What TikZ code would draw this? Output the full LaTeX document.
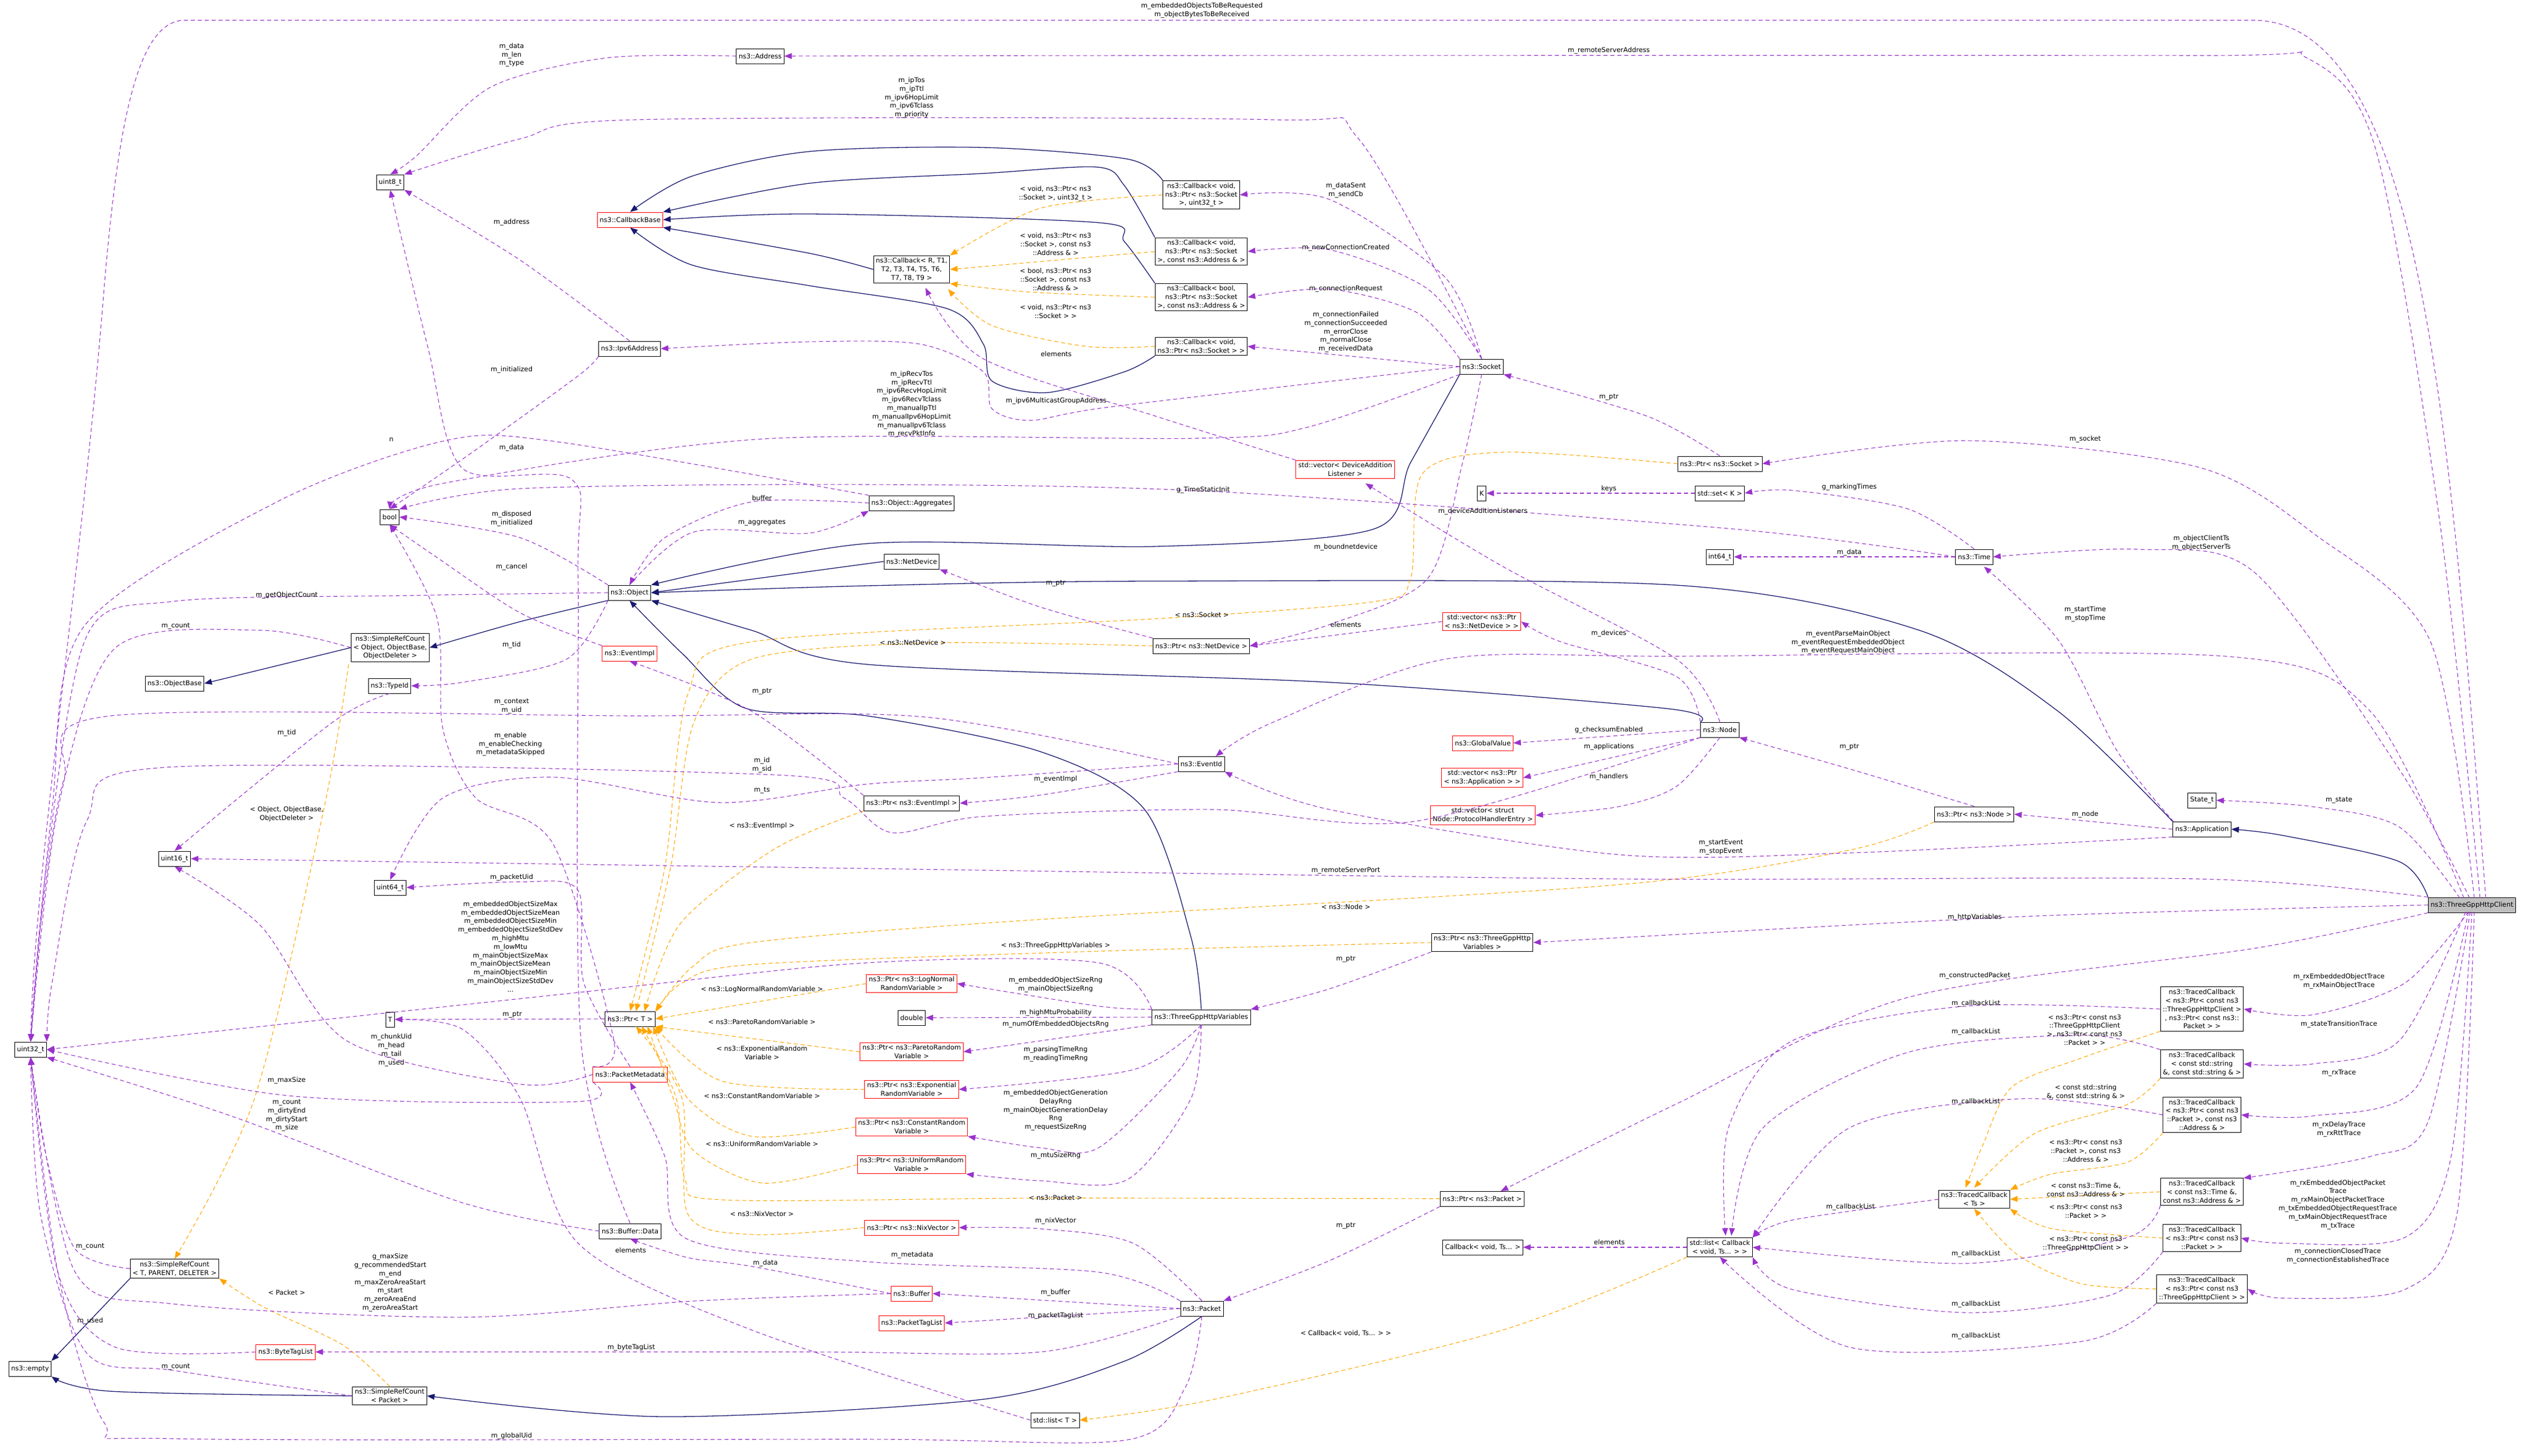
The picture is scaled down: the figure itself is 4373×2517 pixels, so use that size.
\documentclass[tikz,border=0pt]{standalone}
\usepackage{fontspec}
\setmainfont{DejaVu Sans}
\usetikzlibrary{arrows.meta}
\definecolor{purp}{RGB}{154,50,205}
\definecolor{orng}{RGB}{255,165,0}
\definecolor{navy}{RGB}{25,25,112}
\newcommand\fs{\fontsize{11.5}{14.8}\selectfont}
\tikzset{
 box/.style={draw=black,line width=1pt,fill=white,font=\fs,align=center,inner sep=4pt,minimum height=26pt},
 rbox/.style={box,draw=red},
 lbl/.style={font=\fs,align=center,inner sep=0pt},
 mem/.style={draw=purp,dash pattern=on 7pt off 5pt,line width=1.1pt,-{Triangle[length=13pt,width=10pt]}},
 tpl/.style={draw=orng,dash pattern=on 7pt off 5pt,line width=1.1pt,-{Triangle[length=13pt,width=10pt]}},
 inh/.style={draw=navy,line width=1.3pt,-{Triangle[length=13pt,width=10pt]}},
}
\begin{document}
\begin{tikzpicture}[x=1pt,y=-1pt]
\useasboundingbox (0,0) rectangle (4373,2517);
% nodes
\node[box,fill={rgb,255:red,191;green,191;blue,191}] (client) at (4276,1565) {ns3::ThreeGppHttpClient};
\node[box] (app) at (3809,1434) {ns3::Application};
\node[box] (statet) at (3809,1384) {State\_t};
\node[box] (ptrnode) at (3415,1408) {ns3::Ptr< ns3::Node >};
\node[box] (node) at (2975,1262) {ns3::Node};
\node[box] (time) at (3415,963) {ns3::Time};
\node[box] (int64) at (2975,963) {int64\_t};
\node[box] (setk) at (2975,853) {std::set< K >};
\node[box] (K) at (2563,853) {K};
\node[box] (ptrsock) at (2975,802) {ns3::Ptr< ns3::Socket >};
\node[box] (socket) at (2563,634) {ns3::Socket};
\node[box] (cbA) at (2078,337) {ns3::Callback< void,\\ns3::Ptr< ns3::Socket\\>, uint32\_t >};
\node[box] (cbB) at (2078,435) {ns3::Callback< void,\\ns3::Ptr< ns3::Socket\\>, const ns3::Address \& >};
\node[box] (cbC) at (2078,514) {ns3::Callback< bool,\\ns3::Ptr< ns3::Socket\\>, const ns3::Address \& >};
\node[box] (cbD) at (2078,599) {ns3::Callback< void,\\ns3::Ptr< ns3::Socket > >};
\node[box] (cbR) at (1577,466) {ns3::Callback< R, T1,\\T2, T3, T4, T5, T6,\\T7, T8, T9 >};
\node[rbox] (cbbase) at (1090,380) {ns3::CallbackBase};
\node[box] (ipv6) at (1089,603) {ns3::Ipv6Address};
\node[box] (uint8) at (675,315) {uint8\_t};
\node[box] (address) at (1315,97) {ns3::Address};
\node[box] (bool) at (674,894) {bool};
\node[box] (object) at (1089,1025) {ns3::Object};
\node[box] (aggr) at (1577,870) {ns3::Object::Aggregates};
\node[box] (netdev) at (1577,971) {ns3::NetDevice};
\node[box] (ptrnd) at (2078,1117) {ns3::Ptr< ns3::NetDevice >};
\node[rbox] (vecnd) at (2563,1075) {std::vector< ns3::Ptr\\< ns3::NetDevice > >};
\node[rbox] (vecdal) at (2327,812) {std::vector< DeviceAddition\\Listener >};
\node[rbox] (globalv) at (2565,1285) {ns3::GlobalValue};
\node[rbox] (vecapp) at (2564,1345) {std::vector< ns3::Ptr\\< ns3::Application > >};
\node[rbox] (vecph) at (2565,1410) {std::vector< struct\\Node::ProtocolHandlerEntry >};
\node[box] (eventid) at (2078,1321) {ns3::EventId};
\node[box] (ptrei) at (1577,1389) {ns3::Ptr< ns3::EventImpl >};
\node[rbox] (eventimpl) at (1089,1130) {ns3::EventImpl};
\node[box] (typeid) at (674,1186) {ns3::TypeId};
\node[box] (srcobj) at (675,1120) {ns3::SimpleRefCount\\< Object, ObjectBase,\\ObjectDeleter >};
\node[box] (objbase) at (302,1182) {ns3::ObjectBase};
\node[box] (uint16) at (302,1485) {uint16\_t};
\node[box] (uint64) at (675,1535) {uint64\_t};
\node[box] (uint32) at (53,1815) {uint32\_t};
\node[box] (T) at (675,1763) {T};
\node[box] (ptrT) at (1090,1762) {ns3::Ptr< T >};
\node[rbox] (pmeta) at (1090,1858) {ns3::PacketMetadata};
\node[box] (bdata) at (1090,2129) {ns3::Buffer::Data};
\node[box] (srct) at (302,2194) {ns3::SimpleRefCount\\< T, PARENT, DELETER >};
\node[rbox] (bytetag) at (494,2338) {ns3::ByteTagList};
\node[box] (empty) at (52,2367) {ns3::empty};
\node[box] (srcpkt) at (674,2414) {ns3::SimpleRefCount\\< Packet >};
\node[box] (ptrvars) at (2564,1630) {ns3::Ptr< ns3::ThreeGppHttp\\Variables >};
\node[box] (vars) at (2078,1759) {ns3::ThreeGppHttpVariables};
\node[rbox] (lognorm) at (1577,1701) {ns3::Ptr< ns3::LogNormal\\RandomVariable >};
\node[box] (double) at (1577,1760) {double};
\node[rbox] (pareto) at (1577,1819) {ns3::Ptr< ns3::ParetoRandom\\Variable >};
\node[rbox] (expo) at (1577,1884) {ns3::Ptr< ns3::Exponential\\RandomVariable >};
\node[rbox] (const) at (1577,1949) {ns3::Ptr< ns3::ConstantRandom\\Variable >};
\node[rbox] (unif) at (1577,2014) {ns3::Ptr< ns3::UniformRandom\\Variable >};
\node[box] (ptrpkt) at (2564,2073) {ns3::Ptr< ns3::Packet >};
\node[rbox] (nix) at (1577,2123) {ns3::Ptr< ns3::NixVector >};
\node[box] (cbts) at (2565,2157) {Callback< void, Ts... >};
\node[rbox] (buffer) at (1577,2237) {ns3::Buffer};
\node[box] (packet) at (2079,2263) {ns3::Packet};
\node[rbox] (ptl) at (1577,2288) {ns3::PacketTagList};
\node[box] (listT) at (1825,2456) {std::list< T >};
\node[box] (listcb) at (2975,2157) {std::list< Callback\\< void, Ts... > >};
\node[box] (tcts) at (3415,2074) {ns3::TracedCallback\\< Ts >};
\node[box] (tc1) at (3809,1745) {ns3::TracedCallback\\< ns3::Ptr< const ns3\\::ThreeGppHttpClient >\\, ns3::Ptr< const ns3::\\Packet > >};
\node[box] (tc2) at (3809,1840) {ns3::TracedCallback\\< const std::string\\\&, const std::string \& >};
\node[box] (tc3) at (3809,1928) {ns3::TracedCallback\\< ns3::Ptr< const ns3\\::Packet >, const ns3\\::Address \& >};
\node[box] (tc4) at (3809,2061) {ns3::TracedCallback\\< const ns3::Time \&,\\const ns3::Address \& >};
\node[box] (tc5) at (3809,2141) {ns3::TracedCallback\\< ns3::Ptr< const ns3\\::Packet > >};
\node[box] (tc6) at (3809,2229) {ns3::TracedCallback\\< ns3::Ptr< const ns3\\::ThreeGppHttpClient > >};

% inheritance
\draw[inh] plot[smooth,tension=0.5] coordinates {(client.north west) (4150,1490) (3950,1445) (app.east)};
\draw[inh] plot[smooth,tension=0.5] coordinates {(app.north west) (3560,1230) (3320,1090) (2900,1012) (2000,1005) (1500,1013) (object.east)};
\draw[inh] plot[smooth,tension=0.5] coordinates {(socket.south west) (2440,800) (2376,915) (2000,945) (1500,940) (object.north east)};
\draw[inh] plot[smooth,tension=0.5] coordinates {(netdev.west) (1350,995) (object.east)};
\draw[inh] plot[smooth,tension=0.5] coordinates {(node.north west) (2880,1225) (2300,1180) (1500,1149) (1300,1090) (object.south east)};
\draw[inh] plot[smooth,tension=0.5] coordinates {(vars.north) (2060,1620) (1980,1400) (1800,1300) (1500,1238) (1290,1225) (1180,1130) (object.south)};
\draw[inh] plot[smooth,tension=0.5] coordinates {(object.south west) (900,1075) (srcobj.east)};
\draw[inh] (srcobj.west) -- (objbase.east);
\draw[inh] (srct.south west) -- (empty.north east);
\draw[inh] plot[smooth,tension=0.5] coordinates {(srcpkt.west) (191,2406) (empty.south east)};
\draw[inh] plot[smooth,tension=0.5] coordinates {(packet.south) (1945,2354) (1700,2420) (1148,2450) (srcpkt.east)};
\draw[inh] plot[smooth,tension=0.5] coordinates {(cbA.north west) (1950,275) (1700,255) (1400,262) (1196,305) (cbbase.north)};
\draw[inh] plot[smooth,tension=0.5] coordinates {(cbB.north west) (1945,321) (1898,289) (1700,300) (1400,317) (cbbase.north east)};
\draw[inh] plot[smooth,tension=0.5] coordinates {(cbC.north west) (1945,418) (1900,385) (1400,370) (cbbase.east)};
\draw[inh] plot[smooth,tension=0.5] coordinates {(cbR.west) (1400,438) (cbbase.south east)};
\draw[inh] plot[smooth,tension=0.5] coordinates {(cbD.south west) (1945,643) (1811,679) (1716,659) (1701,595) (1639,534) (1400,494) (1196,458) (cbbase.south)};
% templates
\draw[tpl] plot[smooth,tension=0.5] coordinates {(cbA.west) (1800,360) (cbR.north east)};
\draw[tpl] (cbB.west) -- (cbR.east);
\draw[tpl] plot[smooth,tension=0.5] coordinates {(cbC.west) (1780,505) (cbR.south east)};
\draw[tpl] plot[smooth,tension=0.5] coordinates {(cbD.west) (1878,599) (1716,563) (1640,500)};
\draw[tpl] plot[smooth,tension=0.5] coordinates {(603,1149) (560,1400) (440,1900) (srct.north)};
\draw[tpl] plot[smooth,tension=0.5] coordinates {(srcpkt.north) (593,2326) (459,2262) (srct.south east)};
\draw[tpl] plot[smooth,tension=0.5] coordinates {(ptrsock.west) (2600,782) (2460,820) (2440,1000) (2380,1040) (2000,1070) (1300,1110) (1190,1200) (1150,1500) (ptrT.north)};
\draw[tpl] plot[smooth,tension=0.5] coordinates {(ptrnd.west) (1600,1112) (1300,1140) (1200,1250) (1160,1500) (1100,1749)};
\draw[tpl] plot[smooth,tension=0.5] coordinates {(ptrei.south west) (1340,1468) (1177,1597) (1115,1749)};
\draw[tpl] plot[smooth,tension=0.5] coordinates {(ptrnode.south west) (3200,1470) (2800,1530) (1800,1590) (1300,1630) (1200,1670) (ptrT.north east)};
\draw[tpl] plot[smooth,tension=0.5] coordinates {(ptrvars.west) (1900,1645) (1300,1668) (1180,1700) (1135,1749)};
\draw[tpl] (lognorm.west) -- (ptrT.east);
\draw[tpl] (pareto.west) -- (ptrT.south east);
\draw[tpl] plot[smooth,tension=0.5] coordinates {(expo.west) (1250,1870) (ptrT.south east)};
\draw[tpl] plot[smooth,tension=0.5] coordinates {(const.west) (1300,1965) (1190,1900) (1130,1775)};
\draw[tpl] plot[smooth,tension=0.5] coordinates {(unif.west) (1320,2046) (1200,1990) (1165,1900) (1120,1775)};
\draw[tpl] plot[smooth,tension=0.5] coordinates {(ptrpkt.west) (1800,2072) (1250,2075) (1185,2040) (1170,1900) (1110,1775)};
\draw[tpl] plot[smooth,tension=0.5] coordinates {(nix.west) (1300,2135) (1190,2100) (1180,1900) (1100,1775)};
\draw[tpl] plot[smooth,tension=0.5] coordinates {(listcb.south west) (2600,2300) (2100,2420) (listT.east)};
\draw[tpl] plot[smooth,tension=0.5] coordinates {(tc1.south west) (3600,1830) (3480,1880) (3430,1980) (3400,2054)};
\draw[tpl] plot[smooth,tension=0.5] coordinates {(tc2.south west) (3680,1910) (3520,1960) (3415,2054)};
\draw[tpl] plot[smooth,tension=0.5] coordinates {(tc3.south west) (3680,2010) (3550,2030) (tcts.north east)};
\draw[tpl] (tc4.west) -- (tcts.east);
\draw[tpl] plot[smooth,tension=0.5] coordinates {(tc5.west) (3550,2125) (tcts.south east)};
\draw[tpl] plot[smooth,tension=0.5] coordinates {(tc6.west) (3600,2220) (3490,2170) (tcts.south)};
% members from client
\draw[mem] (4300,1553) .. controls (4240,800) and (4200,40) .. (3900,35) -- (320,35) .. controls (240,35) and (205,200) .. (180,500) .. controls (140,1000) and (60,1500) .. (uint32.north);
\draw[mem] plot[smooth,tension=0.5] coordinates {(4290,1553) (4220,900) (4110,260) (3990,100) (3800,96) (2000,96) (address.east)};
\draw[mem] plot[smooth,tension=0.5] coordinates {(4280,1553) (4204,1109) (4004,924) (3803,808) (3402,762) (ptrsock.east)};
\draw[mem] plot[smooth,tension=0.5] coordinates {(4272,1553) (4150,1330) (3900,990) (3700,950) (time.east)};
\draw[mem] plot[smooth,tension=0.5] coordinates {(4262,1553) (4100,1230) (3850,1135) (2900,1135) (2500,1140) (2200,1250) (2103,1308)};
\draw[mem] plot[smooth,tension=0.5] coordinates {(4255,1553) (4150,1430) (4000,1395) (statet.east)};
\draw[mem] plot[smooth,tension=0.5] coordinates {(client.north west) (3803,1520) (2800,1520) (1500,1502) (uint16.east)};
\draw[mem] plot[smooth,tension=0.5] coordinates {(client.west) (3500,1585) (ptrvars.east)};
\draw[mem] plot[smooth,tension=0.5] coordinates {(client.south west) (3900,1640) (3300,1725) (2900,1909) (2596,2060)};
\draw[mem] plot[smooth,tension=0.5] coordinates {(4270,1577) (4160,1700) (4000,1755) (tc1.east)};
\draw[mem] plot[smooth,tension=0.5] coordinates {(4265,1577) (4150,1800) (4000,1840) (tc2.east)};
\draw[mem] plot[smooth,tension=0.5] coordinates {(4270,1577) (4180,1880) (4000,1930) (tc3.east)};
\draw[mem] plot[smooth,tension=0.5] coordinates {(4273,1577) (4200,1940) (4100,2000) (tc4.north east)};
\draw[mem] plot[smooth,tension=0.5] coordinates {(4276,1577) (4240,2000) (4160,2140) (3950,2150) (tc5.east)};
\draw[mem] plot[smooth,tension=0.5] coordinates {(4280,1577) (4250,2100) (4160,2230) (3950,2245) (tc6.east)};
% application etc
\draw[mem] (app.west) -- (ptrnode.east);
\draw[mem] plot[smooth,tension=0.5] coordinates {(app.south west) (3200,1475) (2800,1478) (2300,1400) (eventid.south east)};
\draw[mem] plot[smooth,tension=0.5] coordinates {(3760,1421) (3663,1300) (3562,1109) (3432,980)};
\draw[mem] plot[smooth,tension=0.5] coordinates {(ptrnode.north) (3200,1330) (node.south east)};
\draw[mem] plot[smooth,tension=0.5] coordinates {(node.north) (2900,1140) (2600,980) (2362,836)};
\draw[mem] plot[smooth,tension=0.5] coordinates {(node.north west) (2900,1170) (2700,1110) (vecnd.east)};
\draw[mem] (node.west) -- (globalv.east);
\draw[mem] (node.south west) -- (vecapp.east);
\draw[mem] plot[smooth,tension=0.5] coordinates {(node.south) (2900,1360) (2800,1395) (vecph.east)};
\draw[mem] plot[smooth,tension=0.5] coordinates {(node.south west) (2450,1420) (2100,1400) (1700,1412) (1543,1440) (1460,1380) (1340,1340) (287,1327) (150,1420) (90,1700) (uint32.north east)};
\draw[mem] plot[smooth,tension=0.5] coordinates {(eventid.west) (1600,1240) (1100,1238) (191,1238) (110,1350) (70,1600) (uint32.north)};
\draw[mem] plot[smooth,tension=0.5] coordinates {(eventid.west) (1700,1345) (1500,1356) (1244,1388) (957,1344) (766,1380) (uint64.north)};
\draw[mem] plot[smooth,tension=0.5] coordinates {(eventid.south west) (1800,1375) (ptrei.east)};
\draw[mem] plot[smooth,tension=0.5] coordinates {(time.west) (3000,915) (2100,850) (1500,838) (900,845) (bool.north east)};
\draw[mem] plot[smooth,tension=0.5] coordinates {(time.north) (3300,880) (3100,848) (setk.east)};
\draw[mem] (time.west) -- (int64.east);
\draw[mem] (setk.west) -- (K.east);
\draw[mem] plot[smooth,tension=0.5] coordinates {(ptrsock.north) (2850,720) (socket.south east)};
\draw[mem] plot[smooth,tension=0.5] coordinates {(socket.north) (2500,480) (2300,345) (cbA.east)};
\draw[mem] plot[smooth,tension=0.5] coordinates {(socket.north) (2470,500) (2300,432) (cbB.east)};
\draw[mem] plot[smooth,tension=0.5] coordinates {(socket.north west) (2450,540) (2300,500) (cbC.east)};
\draw[mem] (socket.west) -- (cbD.east);
\draw[mem] plot[smooth,tension=0.5] coordinates {(socket.west) (1926,703) (1783,727) (1716,707) (1701,643) (1591,595) (1400,591) (ipv6.east)};
\draw[mem] plot[smooth,tension=0.5] coordinates {(socket.north) (2350,240) (2200,207) (1100,207) (900,240) (uint8.north east)};
\draw[mem] plot[smooth,tension=0.5] coordinates {(socket.south west) (2261,739) (2070,758) (1321,759) (766,836) (bool.north)};
\draw[mem] plot[smooth,tension=0.5] coordinates {(socket.south) (2530,800) (2470,1000) (2300,1080) (ptrnd.east)};
\draw[mem] plot[smooth,tension=0.5] coordinates {(address.west) (1050,100) (850,150) (720,270) (uint8.north)};
\draw[mem] plot[smooth,tension=0.5] coordinates {(ipv6.north) (900,450) (uint8.south east)};
\draw[mem] plot[smooth,tension=0.5] coordinates {(ipv6.south west) (1000,650) (820,780) (bool.north)};
\draw[mem] plot[smooth,tension=0.5] coordinates {(object.north west) (900,930) (bool.east)};
\draw[mem] plot[smooth,tension=0.5] coordinates {(object.north) (1200,920) (1400,922) (aggr.south west)};
\draw[mem] plot[smooth,tension=0.5] coordinates {(aggr.west) (1300,868) (1150,930) (object.north)};
\draw[mem] plot[smooth,tension=0.5] coordinates {(object.south west) (980,1140) (800,1180) (typeid.east)};
\draw[mem] plot[smooth,tension=0.5] coordinates {(object.west) (700,1030) (300,1040) (150,1100) (80,1500) (uint32.north)};
\draw[mem] plot[smooth,tension=0.5] coordinates {(srcobj.west) (450,1090) (200,1120) (100,1400) (uint32.north)};
\draw[mem] plot[smooth,tension=0.5] coordinates {(typeid.south) (574,1250) (uint16.north)};
\draw[mem] plot[smooth,tension=0.5] coordinates {(eventimpl.north west) (900,1060) (750,960) (bool.south)};
\draw[mem] plot[smooth,tension=0.5] coordinates {(ptrei.north west) (1300,1230) (eventimpl.south)};
\draw[mem] plot[smooth,tension=0.5] coordinates {(ptrnd.north west) (1800,1050) (netdev.south east)};
\draw[mem] (vecnd.west) -- (ptrnd.east);
\draw[mem] plot[smooth,tension=0.5] coordinates {(vecdal.north west) (2000,720) (1700,620) (1601,498)};
\draw[mem] plot[smooth,tension=0.5] coordinates {(aggr.north west) (957,763) (766,763) (479,868) (144,1085) (90,1400) (uint32.north)};
\draw[mem] (ptrT.west) -- (T.east);
\draw[mem] plot[smooth,tension=0.5] coordinates {(vars.north west) (1900,1665) (1500,1665) (957,1721) (uint32.east)};
\draw[mem] plot[smooth,tension=0.5] coordinates {(vars.north west) (1900,1740) (lognorm.east)};
\draw[mem] (vars.west) -- (double.east);
\draw[mem] (vars.south west) -- (pareto.east);
\draw[mem] plot[smooth,tension=0.5] coordinates {(vars.south) (1960,1850) (expo.east)};
\draw[mem] plot[smooth,tension=0.5] coordinates {(vars.south) (2040,1850) (1900,1985) (1800,1985) (const.south east)};
\draw[mem] plot[smooth,tension=0.5] coordinates {(vars.south) (2060,1900) (1950,2040) (1800,2042) (unif.south east)};
\draw[mem] plot[smooth,tension=0.5] coordinates {(ptrvars.south west) (2300,1710) (vars.north east)};
\draw[mem] plot[smooth,tension=0.5] coordinates {(ptrpkt.south west) (2300,2180) (packet.north east)};
\draw[mem] plot[smooth,tension=0.5] coordinates {(packet.north) (1960,2150) (1800,2125) (nix.east)};
\draw[mem] plot[smooth,tension=0.5] coordinates {(packet.north west) (1900,2200) (1500,2182) (1187,2142) (1150,2000) (pmeta.south)};
\draw[mem] (packet.west) -- (buffer.east);
\draw[mem] (packet.west) -- (ptl.east);
\draw[mem] plot[smooth,tension=0.5] coordinates {(packet.south west) (1800,2338) (1400,2338) (bytetag.east)};
\draw[mem] plot[smooth,tension=0.5] coordinates {(packet.south) (2050,2400) (1950,2490) (1500,2489) (300,2488) (180,2460) (100,2200) (uint32.south)};
\draw[mem] plot[smooth,tension=0.5] coordinates {(pmeta.west) (900,1875) (600,1800) (450,1600) (uint16.south)};
\draw[mem] plot[smooth,tension=0.5] coordinates {(pmeta.south west) (1000,1905) (500,1895) (uint32.east)};
\draw[mem] plot[smooth,tension=0.5] coordinates {(pmeta.north) (1010,1700) (1000,1540) (900,1525) (uint64.east)};
\draw[mem] plot[smooth,tension=0.5] coordinates {(pmeta.north west) (1062,1800) (957,1460) (823,1380) (766,1260) (756,1069) (bool.south)};
\draw[mem] plot[smooth,tension=0.5] coordinates {(bdata.west) (800,2080) (400,1930) (uint32.south east)};
\draw[mem] plot[smooth,tension=0.5] coordinates {(bdata.north) (1005,1800) (1000,1000) (990,830) (800,810) (740,600) (uint8.south)};
\draw[mem] plot[smooth,tension=0.5] coordinates {(buffer.west) (1300,2190) (1190,2175) (bdata.south)};
\draw[mem] plot[smooth,tension=0.5] coordinates {(buffer.west) (1200,2250) (800,2278) (300,2255) (130,2200) (uint32.south)};
\draw[mem] plot[smooth,tension=0.5] coordinates {(bytetag.west) (200,2330) (100,2200) (uint32.south)};
\draw[mem] plot[smooth,tension=0.5] coordinates {(srct.west) (130,2160) (80,2000) (uint32.south)};
\draw[mem] plot[smooth,tension=0.5] coordinates {(srcpkt.west) (300,2370) (150,2340) (70,2100) (uint32.south)};
\draw[mem] plot[smooth,tension=0.5] coordinates {(listT.west) (1300,2300) (1000,2150) (900,1900) (800,1780) (T.east)};
\draw[mem] (listcb.west) -- (cbts.east);
\draw[mem] plot[smooth,tension=0.5] coordinates {(tcts.west) (3100,2110) (listcb.north east)};
\draw[mem] plot[smooth,tension=0.5] coordinates {(tc1.west) (3400,1740) (3100,1800) (2990,1950) (2985,2137)};
\draw[mem] plot[smooth,tension=0.5] coordinates {(tc2.north west) (3600,1790) (3300,1820) (3050,1950) (2995,2137)};
\draw[mem] plot[smooth,tension=0.5] coordinates {(tc3.west) (3500,1900) (3200,1950) (listcb.north east)};
\draw[mem] plot[smooth,tension=0.5] coordinates {(tc4.south west) (3680,2140) (3400,2185) (listcb.east)};
\draw[mem] plot[smooth,tension=0.5] coordinates {(tc5.south west) (3650,2240) (3400,2270) (3100,2230) (listcb.south east)};
\draw[mem] plot[smooth,tension=0.5] coordinates {(tc6.south west) (3600,2320) (3200,2330) (listcb.south)};

% labels
\node[lbl] at (2079,18) {m\_embeddedObjectsToBeRequested\\m\_objectBytesToBeReceived};
\node[lbl] at (2783,87) {m\_remoteServerAddress};
\node[lbl] at (885,95) {m\_data\\m\_len\\m\_type};
\node[lbl] at (1577,169) {m\_ipTos\\m\_ipTtl\\m\_ipv6HopLimit\\m\_ipv6Tclass\\m\_priority};
\node[lbl] at (1826,335) {< void, ns3::Ptr< ns3\\::Socket >, uint32\_t >};
\node[lbl] at (1826,422) {< void, ns3::Ptr< ns3\\::Socket >, const ns3\\::Address \& >};
\node[lbl] at (1826,483) {< bool, ns3::Ptr< ns3\\::Socket >, const ns3\\::Address \& >};
\node[lbl] at (1826,539) {< void, ns3::Ptr< ns3\\::Socket > >};
\node[lbl] at (2328,329) {m\_dataSent\\m\_sendCb};
\node[lbl] at (2328,428) {m\_newConnectionCreated};
\node[lbl] at (2328,499) {m\_connectionRequest};
\node[lbl] at (2328,574) {m\_connectionFailed\\m\_connectionSucceeded\\m\_errorClose\\m\_normalClose\\m\_receivedData};
\node[lbl] at (1827,612) {elements};
\node[lbl] at (1827,693) {m\_ipv6MulticastGroupAddress};
\node[lbl] at (1577,699) {m\_ipRecvTos\\m\_ipRecvTtl\\m\_ipv6RecvHopLimit\\m\_ipv6RecvTclass\\m\_manualIpTtl\\m\_manualIpv6HopLimit\\m\_manualIpv6Tclass\\m\_recvPktInfo};
\node[lbl] at (2783,687) {m\_ptr};
\node[lbl] at (885,384) {m\_address};
\node[lbl] at (885,639) {m\_initialized};
\node[lbl] at (677,760) {n};
\node[lbl] at (885,774) {m\_data};
\node[lbl] at (2081,847) {g\_TimeStaticInit};
\node[lbl] at (2783,845) {keys};
\node[lbl] at (2565,884) {m\_deviceAdditionListeners};
\node[lbl] at (1318,861) {buffer};
\node[lbl] at (885,897) {m\_disposed\\m\_initialized};
\node[lbl] at (1318,904) {m\_aggregates};
\node[lbl] at (2328,946) {m\_boundnetdevice};
\node[lbl] at (885,980) {m\_cancel};
\node[lbl] at (1826,1009) {m\_ptr};
\node[lbl] at (496,1029) {m\_getObjectCount};
\node[lbl] at (2079,1063) {< ns3::Socket >};
\node[lbl] at (2328,1080) {elements};
\node[lbl] at (1579,1111) {< ns3::NetDevice >};
\node[lbl] at (2783,1095) {m\_devices};
\node[lbl] at (304,1083) {m\_count};
\node[lbl] at (885,1115) {m\_tid};
\node[lbl] at (1318,1196) {m\_ptr};
\node[lbl] at (885,1221) {m\_context\\m\_uid};
\node[lbl] at (3607,759) {m\_socket};
\node[lbl] at (3199,842) {g\_markingTimes};
\node[lbl] at (3199,955) {m\_data};
\node[lbl] at (3808,939) {m\_objectClientTs\\m\_objectServerTs};
\node[lbl] at (3607,1062) {m\_startTime\\m\_stopTime};
\node[lbl] at (3197,1111) {m\_eventParseMainObject\\m\_eventRequestEmbeddedObject\\m\_eventRequestMainObject};
\node[lbl] at (3199,1292) {m\_ptr};
\node[lbl] at (3607,1408) {m\_node};
\node[lbl] at (4046,1384) {m\_state};
\node[lbl] at (2977,1465) {m\_startEvent\\m\_stopEvent};
\node[lbl] at (3416,1586) {m\_httpVariables};
\node[lbl] at (3416,1687) {m\_constructedPacket};
\node[lbl] at (3418,1735) {m\_callbackList};
\node[lbl] at (3418,1784) {m\_callbackList};
\node[lbl] at (3606,1781) {< ns3::Ptr< const ns3\\::ThreeGppHttpClient\\>, ns3::Ptr< const ns3\\::Packet > >};
\node[lbl] at (3418,1905) {m\_callbackList};
\node[lbl] at (3608,1889) {< const std::string\\\&, const std::string \& >};
\node[lbl] at (3608,1990) {< ns3::Ptr< const ns3\\::Packet >, const ns3\\::Address \& >};
\node[lbl] at (3608,2058) {< const ns3::Time \&,\\const ns3::Address \& >};
\node[lbl] at (3608,2095) {< ns3::Ptr< const ns3\\::Packet > >};
\node[lbl] at (3608,2151) {< ns3::Ptr< const ns3\\::ThreeGppHttpClient > >};
\node[lbl] at (3201,2087) {m\_callbackList};
\node[lbl] at (3418,2168) {m\_callbackList};
\node[lbl] at (3418,2255) {m\_callbackList};
\node[lbl] at (3418,2310) {m\_callbackList};
\node[lbl] at (2784,2148) {elements};
\node[lbl] at (4046,1697) {m\_rxEmbeddedObjectTrace\\m\_rxMainObjectTrace};
\node[lbl] at (4046,1771) {m\_stateTransitionTrace};
\node[lbl] at (4046,1856) {m\_rxTrace};
\node[lbl] at (4046,1953) {m\_rxDelayTrace\\m\_rxRttTrace};
\node[lbl] at (4044,2083) {m\_rxEmbeddedObjectPacket\\Trace\\m\_rxMainObjectPacketTrace\\m\_txEmbeddedObjectRequestTrace\\m\_txMainObjectRequestTrace\\m\_txTrace};
\node[lbl] at (4044,2172) {m\_connectionClosedTrace\\m\_connectionEstablishedTrace};
\node[lbl] at (2783,1262) {g\_checksumEnabled};
\node[lbl] at (2783,1291) {m\_applications};
\node[lbl] at (2783,1343) {m\_handlers};
\node[lbl] at (1826,1347) {m\_eventImpl};
\node[lbl] at (2328,1506) {m\_remoteServerPort};
\node[lbl] at (2328,1568) {< ns3::Node >};
\node[lbl] at (1826,1635) {< ns3::ThreeGppHttpVariables >};
\node[lbl] at (2328,1659) {m\_ptr};
\node[lbl] at (1826,1703) {m\_embeddedObjectSizeRng\\m\_mainObjectSizeRng};
\node[lbl] at (1826,1751) {m\_highMtuProbability};
\node[lbl] at (1826,1771) {m\_numOfEmbeddedObjectsRng};
\node[lbl] at (1826,1823) {m\_parsingTimeRng\\m\_readingTimeRng};
\node[lbl] at (1826,1920) {m\_embeddedObjectGeneration\\DelayRng\\m\_mainObjectGenerationDelay\\Rng\\m\_requestSizeRng};
\node[lbl] at (1826,1998) {m\_mtuSizeRng};
\node[lbl] at (1826,2071) {< ns3::Packet >};
\node[lbl] at (1826,2111) {m\_nixVector};
\node[lbl] at (2328,2120) {m\_ptr};
\node[lbl] at (1578,2170) {m\_metadata};
\node[lbl] at (1826,2235) {m\_buffer};
\node[lbl] at (1826,2275) {m\_packetTagList};
\node[lbl] at (2328,2306) {< Callback< void, Ts... > >};
\node[lbl] at (496,1267) {m\_tid};
\node[lbl] at (883,1287) {m\_enable\\m\_enableChecking\\m\_metadataSkipped};
\node[lbl] at (1318,1323) {m\_id\\m\_sid};
\node[lbl] at (1318,1367) {m\_ts};
\node[lbl] at (496,1408) {< Object, ObjectBase,\\ObjectDeleter >};
\node[lbl] at (1318,1428) {< ns3::EventImpl >};
\node[lbl] at (885,1517) {m\_packetUid};
\node[lbl] at (883,1637) {m\_embeddedObjectSizeMax\\m\_embeddedObjectSizeMean\\m\_embeddedObjectSizeMin\\m\_embeddedObjectSizeStdDev\\m\_highMtu\\m\_lowMtu\\m\_mainObjectSizeMax\\m\_mainObjectSizeMean\\m\_mainObjectSizeMin\\m\_mainObjectSizeStdDev\\...};
\node[lbl] at (1318,1711) {< ns3::LogNormalRandomVariable >};
\node[lbl] at (886,1755) {m\_ptr};
\node[lbl] at (1318,1767) {< ns3::ParetoRandomVariable >};
\node[lbl] at (677,1816) {m\_chunkUid\\m\_head\\m\_tail\\m\_used};
\node[lbl] at (1318,1821) {< ns3::ExponentialRandom\\Variable >};
\node[lbl] at (496,1868) {m\_maxSize};
\node[lbl] at (1318,1895) {< ns3::ConstantRandomVariable >};
\node[lbl] at (496,1929) {m\_count\\m\_dirtyEnd\\m\_dirtyStart\\m\_size};
\node[lbl] at (1318,1978) {< ns3::UniformRandomVariable >};
\node[lbl] at (1318,2099) {< ns3::NixVector >};
\node[lbl] at (156,2156) {m\_count};
\node[lbl] at (1091,2162) {elements};
\node[lbl] at (1324,2184) {m\_data};
\node[lbl] at (675,2218) {g\_maxSize\\g\_recommendedStart\\m\_end\\m\_maxZeroAreaStart\\m\_start\\m\_zeroAreaEnd\\m\_zeroAreaStart};
\node[lbl] at (496,2235) {< Packet >};
\node[lbl] at (156,2284) {m\_used};
\node[lbl] at (1092,2330) {m\_byteTagList};
\node[lbl] at (304,2364) {m\_count};
\node[lbl] at (885,2483) {m\_globalUid};
\end{tikzpicture}
\end{document}
